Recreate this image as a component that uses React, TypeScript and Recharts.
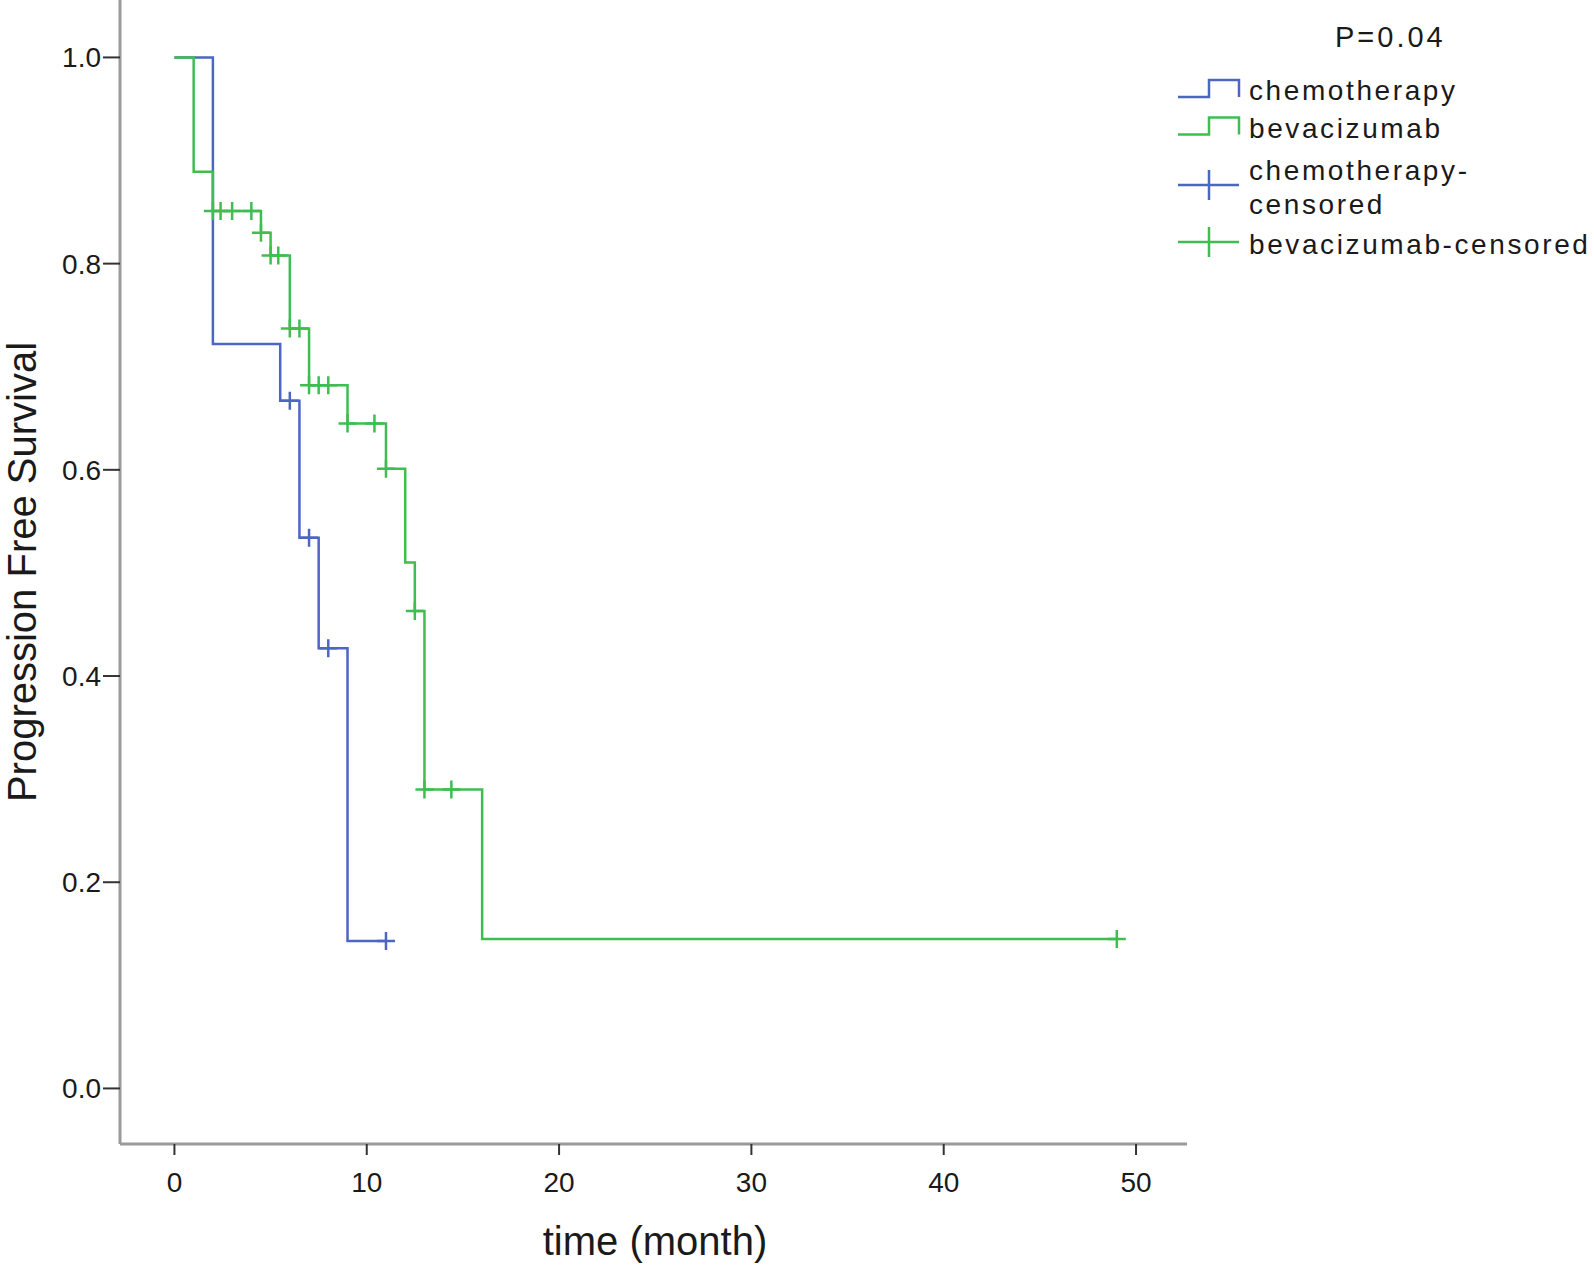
import { ComposedChart, Line, Scatter, XAxis, YAxis, Legend } from "recharts";

// Kaplan-Meier step points (time in months, survival proportion)
const chemoTimes = [0, 2, 5.5, 6.5, 7.5, 9, 11];
const chemoSurv = [1, 0.722, 0.667, 0.534, 0.427, 0.143, 0.143];
const chemoCensorTimes = [6, 7, 8, 11];
const chemoCensorSurv = [0.667, 0.534, 0.427, 0.143];

const bevaTimes = [0, 1, 2, 4.5, 5, 6, 7, 9, 11, 12, 12.5, 13, 16, 49];
const bevaSurv = [1, 0.889, 0.851, 0.83, 0.808, 0.737, 0.682, 0.645, 0.601, 0.51, 0.463, 0.29, 0.145, 0.145];
const bevaCensorTimes = [2, 2.4, 3, 4, 4.5, 5, 5.4, 6, 6.5, 7, 7.5, 8, 9, 10.4, 11, 12.5, 13, 14.4, 49];
const bevaCensorSurv = [
  0.851, 0.851, 0.851, 0.851, 0.83, 0.808, 0.808, 0.737, 0.737, 0.682, 0.682, 0.682, 0.645, 0.645, 0.601, 0.463,
  0.29, 0.29, 0.145,
];

const xTicks = [0, 10, 20, 30, 40, 50];
const yTicks = [0, 0.2, 0.4, 0.6, 0.8, 1.0];

const legendItems = ["chemotherapy", "bevacizumab", "chemotherapy-", "censored", "bevacizumab-censored"];
const pValue = "P=0.04";

const BLUE = "#4d66c1";
const GREEN = "#40bd51";
const FONT = '"Liberation Sans", Arial, sans-serif';

const toPoints = (ts: number[], ss: number[]) => ts.map((t, i) => ({ t, s: ss[i] }));

const chemo = toPoints(chemoTimes, chemoSurv);
const chemoCensor = toPoints(chemoCensorTimes, chemoCensorSurv);
const beva = toPoints(bevaTimes, bevaSurv);
const bevaCensor = toPoints(bevaCensorTimes, bevaCensorSurv);

function Cross(props: any) {
  const { cx, cy, color } = props;
  if (cx == null || cy == null) return null;
  return (
    <path
      d={`M${cx - 9},${cy} H${cx + 9} M${cx},${cy - 9} V${cy + 9}`}
      stroke={color}
      strokeWidth={2.5}
      fill="none"
    />
  );
}

function YTitle() {
  return (
    <text
      x={36}
      y={572}
      transform="rotate(-90 36 572)"
      textAnchor="middle"
      fontSize={40}
      fontFamily={FONT}
      fill="#1a1a1a"
    >
      Progression Free Survival
    </text>
  );
}

function XTitle() {
  return (
    <text x={655} y={1255} textAnchor="middle" fontSize={40} fontFamily={FONT} fill="#1a1a1a">
      time (month)
    </text>
  );
}

function KmLegend() {
  const textProps = { fontSize: 28, fontFamily: FONT, fill: "#1a1a1a", letterSpacing: 2.6 };
  return (
    <svg width={419} height={272}>
      <text x={160} y={47} fontSize={29} fontFamily={FONT} fill="#1a1a1a" letterSpacing={3}>
        {pValue}
      </text>
      <path d="M3,97 H34 V80 H64 V97" stroke={BLUE} strokeWidth={2.5} fill="none" />
      <text x={74} y={100} {...textProps}>{legendItems[0]}</text>
      <path d="M3,134.5 H34 V117.5 H64 V134.5" stroke={GREEN} strokeWidth={2.5} fill="none" />
      <text x={74} y={137.5} {...textProps}>{legendItems[1]}</text>
      <path d="M3,185 H64 M34,170 V200" stroke={BLUE} strokeWidth={2.5} fill="none" />
      <text x={74} y={179.5} {...textProps}>{legendItems[2]}</text>
      <text x={74} y={213.5} {...textProps}>{legendItems[3]}</text>
      <path d="M3,242 H64 M34,227 V257" stroke={GREEN} strokeWidth={2.5} fill="none" />
      <text x={74} y={253.5} {...textProps}>{legendItems[4]}</text>
    </svg>
  );
}

export default function App() {
  return (
    <div style={{ position: "absolute", left: 0, top: 0, background: "#fff" }}>
      <ComposedChart width={1594} height={1266} margin={{ top: 0, right: 407, bottom: 0, left: 40 }}>
        <XAxis
          dataKey="t"
          type="number"
          domain={[-2.83, 52.65]}
          ticks={xTicks}
          allowDataOverflow
          height={122}
          tickSize={11}
          tickMargin={17}
          axisLine={{ stroke: "#9a9a9a", strokeWidth: 3 }}
          tickLine={{ stroke: "#333", strokeWidth: 2 }}
          tick={{ fill: "#1a1a1a", fontSize: 28, fontFamily: FONT }}
          label={<XTitle />}
        />
        <YAxis
          dataKey="s"
          type="number"
          domain={[-0.0539, 1.0557]}
          ticks={yTicks}
          allowDataOverflow
          width={80}
          tickSize={17}
          tickMargin={2}
          tickFormatter={(v: number) => v.toFixed(1)}
          axisLine={{ stroke: "#9a9a9a", strokeWidth: 3 }}
          tickLine={{ stroke: "#333", strokeWidth: 2 }}
          tick={{ fill: "#1a1a1a", fontSize: 28, fontFamily: FONT }}
          label={<YTitle />}
        />
        <Legend
          layout="vertical"
          align="center"
          verticalAlign="middle"
          wrapperStyle={{ left: 1175, top: 0, width: 419, height: 272 }}
          content={<KmLegend />}
        />
        <Line
          data={chemo}
          dataKey="s"
          type="stepAfter"
          stroke={BLUE}
          strokeWidth={2.5}
          dot={false}
          activeDot={false}
          isAnimationActive={false}
        />
        <Line
          data={beva}
          dataKey="s"
          type="stepAfter"
          stroke={GREEN}
          strokeWidth={2.5}
          dot={false}
          activeDot={false}
          isAnimationActive={false}
        />
        <Scatter
          data={chemoCensor}
          dataKey="s"
          shape={(p: any) => <Cross {...p} color={BLUE} />}
          isAnimationActive={false}
        />
        <Scatter
          data={bevaCensor}
          dataKey="s"
          shape={(p: any) => <Cross {...p} color={GREEN} />}
          isAnimationActive={false}
        />
      </ComposedChart>
    </div>
  );
}
